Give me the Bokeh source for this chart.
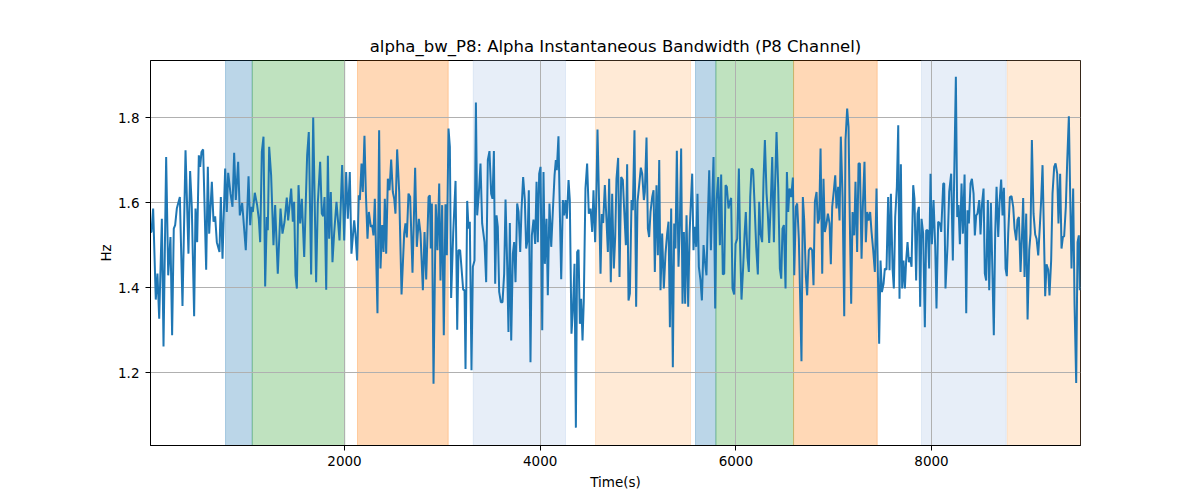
from bokeh.plotting import figure
from bokeh.models import BoxAnnotation, Range1d, FixedTicker, ColumnDataSource
from bokeh.embed import file_html
from bokeh.resources import INLINE

# ---- data ----
time_s = [
    17, 27, 44, 71, 88, 106, 133, 150, 177, 198, 221, 238, 255, 269, 286, 317, 344, 375, 405, 422,
    439, 463, 477, 494, 511, 525, 538, 555, 586, 603, 617, 644, 661, 678, 695, 722, 736, 753, 780, 797,
    811, 835, 855, 872, 889, 913, 930, 954, 991, 1019, 1036, 1049, 1063, 1083, 1107, 1124, 1138, 1155, 1172, 1189,
    1206, 1216, 1230, 1250, 1274, 1291, 1318, 1346, 1366, 1387, 1410, 1424, 1455, 1472, 1485, 1499, 1513, 1530, 1547, 1564,
    1588, 1618, 1635,
    1659, 1680, 1710, 1727, 1751, 1768, 1782, 1796, 1813, 1830, 1843, 1860, 1877, 1894, 1918, 1949, 1976, 1997, 2017, 2034,
    2054, 2071, 2099, 2112, 2129, 2146, 2157, 2174, 2187, 2204, 2218, 2235, 2249, 2269, 2283, 2296, 2310, 2337, 2354, 2368,
    2385, 2399, 2412, 2426, 2443, 2460, 2477, 2494, 2508, 2521, 2538, 2559, 2583, 2610, 2623, 2637, 2654, 2671, 2695, 2722,
    2739, 2760, 2777, 2801, 2818, 2835, 2859, 2872, 2882, 2893, 2910, 2933, 2950, 2968, 2981, 2998, 3015, 3032, 3046, 3063,
    3077, 3090, 3111, 3135, 3152, 3165, 3182,
    3213, 3227, 3237, 3254, 3268, 3281, 3298, 3312, 3329, 3343, 3356, 3373, 3390, 3407, 3431, 3448, 3465, 3482, 3499, 3513,
    3527, 3540, 3554, 3567, 3581, 3598, 3615, 3632, 3646, 3663, 3676, 3690, 3704, 3721, 3734, 3748, 3765, 3779, 3796, 3809,
    3826, 3843, 3857, 3871, 3884, 3901, 3915, 3932, 3949, 3963, 3976, 3990, 4004, 4021, 4034, 4048, 4065, 4078, 4095, 4113,
    4130, 4147, 4160, 4170, 4187, 4201, 4215, 4232, 4245, 4259, 4273, 4290, 4303, 4320, 4334, 4351, 4365, 4378, 4392, 4406,
    4419, 4433, 4446, 4463, 4480, 4497, 4515, 4532, 4545, 4562, 4572, 4586, 4603, 4617, 4630, 4644, 4661, 4678, 4692, 4705,
    4722, 4736, 4753, 4767, 4780, 4797, 4811,
    4828, 4845, 4859, 4876, 4889, 4903, 4917, 4934, 4947, 4964, 4981, 4995, 5012, 5029, 5043, 5060, 5070, 5087, 5101, 5114,
    5128, 5145, 5159, 5172, 5189, 5203, 5217, 5230, 5247, 5264, 5281, 5298, 5312, 5326, 5339, 5356, 5370, 5383, 5397, 5414,
    5428, 5441, 5455, 5469, 5482, 5496, 5513, 5527, 5540, 5554, 5567, 5581, 5595, 5608, 5622, 5639, 5653, 5670, 5683, 5700,
    5714, 5728, 5745, 5758, 5772, 5789, 5803, 5820, 5837, 5850, 5867, 5881, 5895, 5908, 5925, 5939, 5952, 5966, 5983, 5997,
    6014, 6031, 6044, 6058, 6075, 6089, 6102, 6119, 6133, 6147, 6160, 6177, 6191, 6208, 6225, 6239, 6252, 6269, 6283, 6297,
    6314, 6327, 6341, 6358, 6372, 6389,
    6399, 6416, 6433, 6450, 6464, 6477, 6491, 6508, 6522, 6535, 6549, 6566, 6583, 6597, 6614, 6627, 6644, 6658, 6671, 6685,
    6699, 6716, 6729, 6746, 6763, 6780, 6794, 6808, 6825, 6838, 6852, 6866, 6883, 6896, 6910, 6927, 6941, 6958, 6971, 6985,
    7002, 7016, 7029, 7046, 7060, 7073, 7091, 7108, 7121, 7138, 7152, 7165, 7179, 7193, 7210, 7223, 7240, 7254, 7268, 7285,
    7298, 7315, 7329, 7343, 7356, 7373, 7387, 7404, 7421, 7438, 7452, 7465, 7479, 7493, 7510, 7523, 7540, 7557, 7571, 7585,
    7602, 7615, 7629, 7646, 7660, 7673, 7687, 7700, 7714, 7728, 7741, 7755, 7769, 7782, 7796, 7813, 7826, 7843, 7857, 7871,
    7884, 7898, 7915, 7932, 7946,
    7962, 7976, 7990, 8004, 8021, 8038, 8051, 8068, 8086, 8099, 8120, 8130, 8143, 8164, 8181, 8201, 8218, 8232, 8249, 8263,
    8276, 8290, 8307, 8321, 8338, 8355, 8368, 8382, 8399, 8413, 8430, 8443, 8457, 8470, 8488, 8501, 8515, 8532, 8545, 8559,
    8576, 8590, 8607, 8637, 8651, 8665, 8682, 8695, 8712, 8726, 8740, 8757, 8770, 8784, 8801, 8818, 8835, 8849, 8866, 8879,
    8893, 8910, 8927, 8937, 8951, 8968, 8982, 8999, 9012, 9026, 9043, 9060, 9074, 9091, 9108, 9121, 9135, 9148, 9162, 9176,
    9193, 9206, 9223, 9237, 9254, 9268, 9285, 9298, 9315, 9329, 9343, 9356, 9373, 9387, 9404, 9418, 9431, 9448, 9462, 9479,
    9493, 9506, 9516,
]

bandwidth_hz = [
    1.531, 1.531, 1.586, 1.372, 1.433, 1.327, 1.562, 1.262, 1.707, 1.429, 1.519, 1.288, 1.539, 1.547, 1.586, 1.613, 1.357, 1.723, 1.480, 1.674,
    1.590, 1.333, 1.586, 1.507, 1.711, 1.684, 1.719, 1.725, 1.442, 1.684, 1.527, 1.649, 1.555, 1.568, 1.507, 1.484, 1.613, 1.468, 1.680, 1.578,
    1.670, 1.621, 1.590, 1.717, 1.606, 1.696, 1.570, 1.599, 1.488, 1.662, 1.547, 1.590, 1.578, 1.623, 1.594, 1.562, 1.507, 1.719, 1.755, 1.403,
    1.566, 1.535, 1.731, 1.664, 1.500, 1.594, 1.433, 1.586, 1.527, 1.555, 1.612, 1.558, 1.633, 1.555, 1.602, 1.429, 1.398, 1.641, 1.551, 1.609,
    1.472, 1.711, 1.766,
    1.431, 1.800, 1.413, 1.598, 1.696, 1.574, 1.568, 1.613, 1.395, 1.710, 1.515, 1.625, 1.460, 1.527, 1.602, 1.511, 1.688, 1.511, 1.672, 1.562,
    1.672, 1.480, 1.558, 1.527, 1.464, 1.617, 1.606, 1.692, 1.625, 1.757, 1.625, 1.515, 1.578, 1.543, 1.547, 1.523, 1.609, 1.340, 1.770, 1.445,
    1.547, 1.484, 1.609, 1.480, 1.656, 1.629, 1.701, 1.625, 1.609, 1.574, 1.725, 1.625, 1.384, 1.527, 1.551, 1.518, 1.621, 1.613, 1.435, 1.682,
    1.496, 1.562, 1.527, 1.394, 1.531, 1.419, 1.613, 1.617, 1.492, 1.598, 1.174, 1.596, 1.488, 1.645, 1.417, 1.594, 1.288, 1.596, 1.476, 1.774,
    1.731, 1.376, 1.527, 1.651, 1.301, 1.488, 1.488,
    1.395, 1.394, 1.209, 1.604, 1.539, 1.555, 1.206, 1.449, 1.464, 1.835, 1.570, 1.621, 1.692, 1.551, 1.507, 1.413, 1.700, 1.721, 1.621, 1.609,
    1.721, 1.409, 1.570, 1.543, 1.390, 1.366, 1.366, 1.433, 1.607, 1.452, 1.296, 1.552, 1.276, 1.480, 1.507, 1.413, 1.598, 1.578, 1.484, 1.582,
    1.660, 1.607, 1.492, 1.511, 1.629, 1.225, 1.523, 1.560, 1.503, 1.649, 1.507, 1.668, 1.684, 1.300, 1.672, 1.456, 1.562, 1.382, 1.598, 1.496,
    1.582, 1.664, 1.700, 1.676, 1.756, 1.578, 1.420, 1.606, 1.570, 1.606, 1.562, 1.653, 1.606, 1.292, 1.343, 1.456, 1.071, 1.484, 1.489, 1.315,
    1.374, 1.276, 1.370, 1.633, 1.692, 1.574, 1.586, 1.531, 1.629, 1.507, 1.590, 1.772, 1.590, 1.433, 1.573, 1.552, 1.641, 1.558, 1.484, 1.656,
    1.413, 1.621, 1.445, 1.519, 1.656, 1.705, 1.425,
    1.660, 1.653, 1.582, 1.500, 1.690, 1.370, 1.386, 1.606, 1.582, 1.770, 1.355, 1.602, 1.641, 1.682, 1.668, 1.606, 1.625, 1.753, 1.539, 1.519,
    1.578, 1.613, 1.629, 1.437, 1.641, 1.476, 1.700, 1.394, 1.527, 1.398, 1.480, 1.527, 1.555, 1.307, 1.586, 1.213, 1.551, 1.492, 1.722, 1.449,
    1.551, 1.727, 1.362, 1.531, 1.362, 1.570, 1.355, 1.527, 1.598, 1.668, 1.488, 1.543, 1.496, 1.621, 1.449, 1.417, 1.370, 1.500, 1.464, 1.429,
    1.566, 1.676, 1.488, 1.598, 1.707, 1.351, 1.606, 1.660, 1.500, 1.666, 1.431, 1.433, 1.641, 1.637, 1.586, 1.602, 1.611, 1.398, 1.384, 1.503,
    1.515, 1.680, 1.496, 1.372, 1.449, 1.523, 1.578, 1.472, 1.437, 1.613, 1.680, 1.676, 1.598, 1.496, 1.431, 1.602, 1.527, 1.507, 1.653, 1.747,
    1.621, 1.574, 1.505, 1.606, 1.707, 1.507,
    1.621, 1.766, 1.637, 1.445, 1.421, 1.539, 1.547, 1.398, 1.672, 1.578, 1.633, 1.613, 1.659, 1.429, 1.590, 1.598, 1.515, 1.370, 1.227, 1.613,
    1.558, 1.425, 1.382, 1.488, 1.494, 1.488, 1.406, 1.602, 1.625, 1.551, 1.562, 1.727, 1.433, 1.656, 1.531, 1.551, 1.574, 1.551, 1.455, 1.590,
    1.629, 1.664, 1.586, 1.637, 1.558, 1.755, 1.613, 1.333, 1.747, 1.821, 1.778, 1.558, 1.362, 1.578, 1.523, 1.649, 1.484, 1.692, 1.692, 1.468,
    1.590, 1.696, 1.507, 1.578, 1.558, 1.578, 1.531, 1.488, 1.437, 1.633, 1.433, 1.268, 1.464, 1.390, 1.409, 1.445, 1.442, 1.613, 1.441, 1.621,
    1.445, 1.398, 1.566, 1.637, 1.782, 1.374, 1.690, 1.398, 1.464, 1.398, 1.464, 1.507, 1.460, 1.472, 1.449, 1.641, 1.609, 1.417, 1.574, 1.590,
    1.355, 1.562, 1.527, 1.307, 1.535,
    1.535, 1.445, 1.668, 1.502, 1.606, 1.496, 1.351, 1.555, 1.551, 1.531, 1.645, 1.645, 1.398, 1.500, 1.625, 1.668, 1.464, 1.660, 1.896, 1.566,
    1.594, 1.502, 1.645, 1.527, 1.666, 1.340, 1.582, 1.551, 1.645, 1.656, 1.621, 1.523, 1.570, 1.574, 1.606, 1.525, 1.594, 1.633, 1.433, 1.417,
    1.606, 1.394, 1.599, 1.288, 1.527, 1.637, 1.519, 1.598, 1.654, 1.570, 1.635, 1.445, 1.427, 1.527, 1.613, 1.615, 1.590, 1.539, 1.511, 1.560,
    1.566, 1.437, 1.535, 1.611, 1.425, 1.574, 1.325, 1.488, 1.527, 1.747, 1.574, 1.525, 1.515, 1.476, 1.547, 1.606, 1.688, 1.543, 1.380, 1.455,
    1.442, 1.382, 1.464, 1.621, 1.684, 1.692, 1.668, 1.551, 1.668, 1.492, 1.519, 1.521, 1.590, 1.696, 1.803, 1.613, 1.445, 1.633, 1.362, 1.176,
    1.507, 1.523, 1.394,
]

band_start = [784, 1057, 2133, 3316, 4566, 5588, 5796, 6590, 7898, 8774]
band_end = [1057, 2003, 3060, 4259, 5537, 5796, 6590, 7445, 8764, 9523]
band_color = ["#1f77b4", "#2ca02c", "#ff7f0e", "#aec7e8", "#ffbb78",
              "#1f77b4", "#2ca02c", "#ff7f0e", "#aec7e8", "#ffbb78"]

x_ticks = [2000, 4000, 6000, 8000]
y_ticks = [1.2, 1.4, 1.6, 1.8]

title_text = "alpha_bw_P8: Alpha Instantaneous Bandwidth (P8 Channel)"

n = min(len(time_s), len(bandwidth_hz))
src = ColumnDataSource(data=dict(t=time_s[:n], v=bandwidth_hz[:n]))

FONT = "DejaVu Sans"

p = figure(width=1192, height=492, output_backend="svg", toolbar_location=None,
           x_range=Range1d(17, 9523), y_range=Range1d(1.029, 1.934),
           title=title_text, x_axis_label="Time(s)", y_axis_label="Hz",
           min_border_left=150, min_border_right=112, min_border_top=60,
           min_border_bottom=47)

p.title.align = "center"
p.title.text_font = FONT
p.title.text_font_size = "16.5px"
p.title.text_font_style = "normal"
p.title.text_color = "black"

p.outline_line_color = "black"
p.outline_line_width = 1
p.outline_line_alpha = 1

for ax in (p.xaxis[0], p.yaxis[0]):
    ax.axis_line_color = "black"
    ax.major_tick_line_color = "black"
    ax.major_tick_out = 5
    ax.major_tick_in = 0
    ax.minor_tick_line_color = None
    ax.major_label_text_font = FONT
    ax.major_label_text_font_size = "13.5px"
    ax.major_label_text_color = "black"
    ax.axis_label_text_font = FONT
    ax.axis_label_text_font_size = "13.5px"
    ax.axis_label_text_font_style = "normal"
    ax.axis_label_text_color = "black"

p.xaxis[0].ticker = FixedTicker(ticks=x_ticks)
p.yaxis[0].ticker = FixedTicker(ticks=y_ticks)
p.xaxis[0].major_label_standoff = 5
p.yaxis[0].major_label_standoff = 6
p.xaxis[0].axis_label_standoff = 5
p.yaxis[0].axis_label_standoff = 1

p.grid.grid_line_color = "#b0b0b0"
p.grid.grid_line_width = 1
p.xgrid[0].ticker = FixedTicker(ticks=x_ticks)
p.ygrid[0].ticker = FixedTicker(ticks=y_ticks)

boxes = []
for s, e, c in zip(band_start, band_end, band_color):
    boxes.append(BoxAnnotation(left=s, right=e, fill_color=c, fill_alpha=0.3,
                               line_color=c, line_alpha=0.3, line_width=1,
                               level="underlay"))
# draw the bands first so that the grid sits on top of them
p.center = boxes + list(p.center)

p.line("t", "v", source=src, line_color="#1f77b4", line_width=2)

p.background_fill_color = "white"
p.border_fill_color = "white"

open("out.html", "w").write(file_html(p, INLINE))
